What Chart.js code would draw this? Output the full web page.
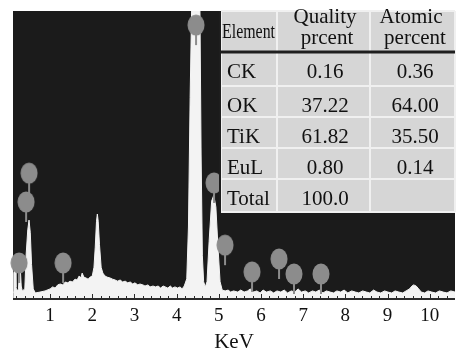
<!DOCTYPE html>
<html lang="en">
<head>
  <meta charset="UTF-8" />
  <title>EDS spectrum</title>
  <script src="https://cdn.jsdelivr.net/npm/chart.js"></script>
  <style>
    html, body { margin: 0; padding: 0; background: #fff; }
    canvas { display: block; }
  </style>
</head>
<body>
  <canvas id="eds" width="457" height="350"></canvas>

  <script>
    // spectrum outline: energy (keV) and counts (arb.)
    const energy = [
      0.123, 0.14, 0.155, 0.175, 0.19, 0.22, 0.25, 0.27, 0.295, 0.315,
      0.34, 0.40, 0.43, 0.47, 0.50, 0.53, 0.56, 0.60, 0.65, 0.76,
      0.88, 1.00, 1.06, 1.12, 1.18, 1.24, 1.30, 1.36, 1.42, 1.47,
      1.53, 1.59, 1.64, 1.69, 1.73, 1.76, 1.80, 1.85, 1.90, 1.95,
      2.00, 2.04, 2.07, 2.10, 2.12, 2.14, 2.17, 2.21, 2.25, 2.30,
      2.35, 2.42, 2.48, 2.54, 2.60, 2.66, 2.72, 2.78, 2.84, 2.90,
      2.96, 3.01, 3.08, 3.13, 3.20, 3.25, 3.32, 3.37, 3.44, 3.50,
      3.56, 3.62, 3.68, 3.73, 3.79, 3.85, 3.90, 3.96, 4.02, 4.08,
      4.13, 4.18, 4.24, 4.28, 4.32, 4.36, 4.55, 4.58, 4.61, 4.64,
      4.68, 4.72, 4.77, 4.83, 4.88, 4.93, 4.98, 5.03, 5.08, 5.15,
      5.22, 5.28, 5.35, 5.45, 5.52, 5.60, 5.68, 5.75, 5.82, 5.90,
      5.98, 6.05, 6.13, 6.22, 6.30, 6.38, 6.47, 6.55, 6.63, 6.72,
      6.80, 6.88, 6.96, 7.05, 7.13, 7.22, 7.30, 7.38, 7.47, 7.55,
      7.64, 7.72, 7.80, 7.89, 7.97, 8.06, 8.15, 8.24, 8.32, 8.41,
      8.50, 8.58, 8.67, 8.75, 8.84, 8.93, 9.01, 9.10, 9.18, 9.27,
      9.36, 9.44, 9.52, 9.58, 9.62, 9.68, 9.74, 9.80, 9.88, 9.96,
      10.05, 10.14, 10.23, 10.32, 10.41, 10.50, 10.60
    ];
    const counts = [
      24, 90, 100, 94, 40, 28, 35, 97, 100, 45,
      28, 35, 150, 240, 274, 230, 120, 35, 21, 24,
      28, 35, 42, 38, 49, 52, 49, 59, 56, 62,
      59, 69, 66, 80, 73, 90, 76, 73, 69, 76,
      80, 110, 180, 270, 295, 270, 190, 110, 90, 80,
      76, 73, 69, 66, 62, 66, 59, 62, 56, 59,
      52, 56, 49, 52, 49, 45, 49, 42, 45, 42,
      45, 38, 45, 42, 38, 45, 38, 42, 38, 42,
      35, 45, 70, 250, 700, 1050, 1050, 500, 150, 60,
      42, 60, 200, 340, 360, 320, 180, 60, 31, 28,
      31, 24, 28, 24, 31, 24, 28, 35, 24, 28,
      21, 31, 24, 28, 21, 28, 24, 31, 21, 28,
      24, 35, 24, 28, 21, 28, 24, 31, 21, 28,
      24, 21, 28, 24, 31, 21, 28, 24, 21, 28,
      24, 21, 31, 24, 21, 28, 24, 21, 28, 24,
      21, 28, 35, 45, 49, 45, 35, 24, 21, 28,
      24, 21, 28, 24, 21, 28, 24
    ];

    // peak markers (grey blobs)
    const peakEnergy = [0.265, 0.431, 0.502, 1.308, 4.460, 4.886, 5.147, 5.787, 6.427, 6.782, 7.422];
    const peakCounts = [125, 337, 437, 125, 951, 403, 187, 94, 139, 87, 87];

    const tickValues = [1, 2, 3, 4, 5, 6, 7, 8, 9, 10];

    // composition table
    const elements = ['CK', 'OK', 'TiK', 'EuL', 'Total'];
    const qualityPercent = ['0.16', '37.22', '61.82', '0.80', '100.0'];
    const atomicPercent = ['0.36', '64.00', '35.50', '0.14', ''];

    const serif = "'Liberation Serif', 'Times New Roman', serif";

    function markerImage() {
      const c = document.createElement('canvas');
      c.width = 18; c.height = 64;
      const g = c.getContext('2d');
      g.fillStyle = '#8c8c8c';
      g.beginPath();
      g.ellipse(9, 32, 8.5, 10.5, 0, 0, Math.PI * 2);
      g.fill();
      g.fillRect(8, 40, 2, 12);
      return c;
    }

    const edsPlugin = {
      id: 'eds',
      beforeDatasetsDraw(chart) {
        const { ctx, chartArea: a } = chart;
        ctx.save();
        ctx.fillStyle = '#1b1b1b';
        ctx.fillRect(a.left, a.top, a.right - a.left, a.bottom - a.top);
        ctx.restore();
      },
      afterDatasetsDraw(chart) {
        const { ctx, chartArea: a, scales: { x } } = chart;
        ctx.save();
        ctx.strokeStyle = '#2a2a2a';
        ctx.lineWidth = 2;
        ctx.beginPath();
        ctx.moveTo(a.left, a.bottom);
        ctx.lineTo(a.right, a.bottom);
        ctx.stroke();
        ctx.lineWidth = 1;
        for (let i = 1; i * 0.2 < x.max; i++) {
          const px = Math.round(x.getPixelForValue(i * 0.2)) + 0.5;
          const len = i % 5 === 0 ? 5 : 3;
          ctx.beginPath();
          ctx.moveTo(px, a.bottom);
          ctx.lineTo(px, a.bottom - len);
          ctx.stroke();
        }
        ctx.restore();
      },
      afterDraw(chart) {
        const { ctx, chartArea: a } = chart;
        const cols = [a.right - 234, a.right - 178, a.right - 85, a.right];
        const rows = [a.top, a.top + 41, a.top + 75, a.top + 106, a.top + 137, a.top + 168, a.top + 201];
        ctx.save();
        ctx.fillStyle = '#d6d6d6';
        ctx.fillRect(cols[0], rows[0], cols[3] - cols[0], rows[6] - rows[0]);
        // light cell borders
        ctx.strokeStyle = '#f0f0f0';
        ctx.lineWidth = 2;
        rows.forEach((r, i) => {
          if (i === 1) return;
          ctx.beginPath(); ctx.moveTo(cols[0], r); ctx.lineTo(cols[3], r); ctx.stroke();
        });
        cols.forEach(c => {
          ctx.beginPath(); ctx.moveTo(c, rows[0]); ctx.lineTo(c, rows[6]); ctx.stroke();
        });
        // header rule and dark left edge
        ctx.strokeStyle = '#1e1e1e';
        ctx.lineWidth = 3;
        ctx.beginPath(); ctx.moveTo(cols[0], rows[1]); ctx.lineTo(cols[3], rows[1]); ctx.stroke();
        ctx.lineWidth = 2;
        ctx.beginPath(); ctx.moveTo(cols[0] - 1, rows[0]); ctx.lineTo(cols[0] - 1, rows[6]); ctx.stroke();

        ctx.fillStyle = '#111';
        ctx.textBaseline = 'alphabetic';
        ctx.font = '20px ' + serif;
        ctx.textAlign = 'left';
        ctx.fillText('Element', cols[0] + 1, rows[0] + 27, 53);
        ctx.font = '21px ' + serif;
        ctx.textAlign = 'center';
        ctx.fillText('Quality', cols[1] + 48, rows[0] + 12);
        ctx.fillText('prcent', cols[1] + 50, rows[0] + 33);
        ctx.fillText('Atomic', cols[2] + 41, rows[0] + 12);
        ctx.fillText('percent', cols[2] + 45, rows[0] + 33);

        elements.forEach((el, i) => {
          const base = rows[i + 1] + 26;
          ctx.textAlign = 'left';
          ctx.fillText(el, cols[0] + 6, base);
          ctx.textAlign = 'center';
          ctx.fillText(qualityPercent[i], cols[1] + 48, base);
          ctx.fillText(atomicPercent[i], cols[2] + 45, base);
        });
        ctx.restore();
      }
    };

    new Chart(document.getElementById('eds'), {
      type: 'line',
      data: {
        datasets: [
          {
            label: 'peaks',
            data: peakEnergy.map((e, i) => ({ x: e, y: peakCounts[i] })),
            showLine: false,
            pointStyle: markerImage(),
            pointRadius: 9,
            clip: false,
            order: 0
          },
          {
            label: 'spectrum',
            data: energy.map((e, i) => ({ x: e, y: counts[i] })),
            borderColor: '#f3f3f3',
            borderWidth: 1,
            backgroundColor: '#f3f3f3',
            fill: 'origin',
            pointRadius: 0,
            tension: 0,
            order: 1
          }
        ]
      },
      options: {
        responsive: false,
        animation: false,
        devicePixelRatio: 1,
        layout: { autoPadding: false, padding: { top: 11, left: 13, right: 2, bottom: 0 } },
        plugins: { legend: { display: false }, tooltip: { enabled: false } },
        scales: {
          x: {
            type: 'linear',
            min: 0.12,
            max: 10.6,
            afterBuildTicks: s => { s.ticks = tickValues.map(v => ({ value: v })); },
            afterFit: s => { s.height = 51; s.paddingLeft = 0; s.paddingRight = 0; },
            grid: { display: false, drawTicks: false },
            border: { display: false },
            ticks: {
              color: '#111',
              font: { family: serif, size: 19 },
              padding: 6,
              maxRotation: 0,
              autoSkip: false
            },
            title: {
              display: true,
              text: 'KeV',
              color: '#111',
              font: { family: serif, size: 21, lineHeight: 1 },
              padding: { top: 0, bottom: -3 }
            }
          },
          y: { display: false, min: 0, max: 1000 }
        }
      },
      plugins: [edsPlugin]
    });
  </script>
</body>
</html>
